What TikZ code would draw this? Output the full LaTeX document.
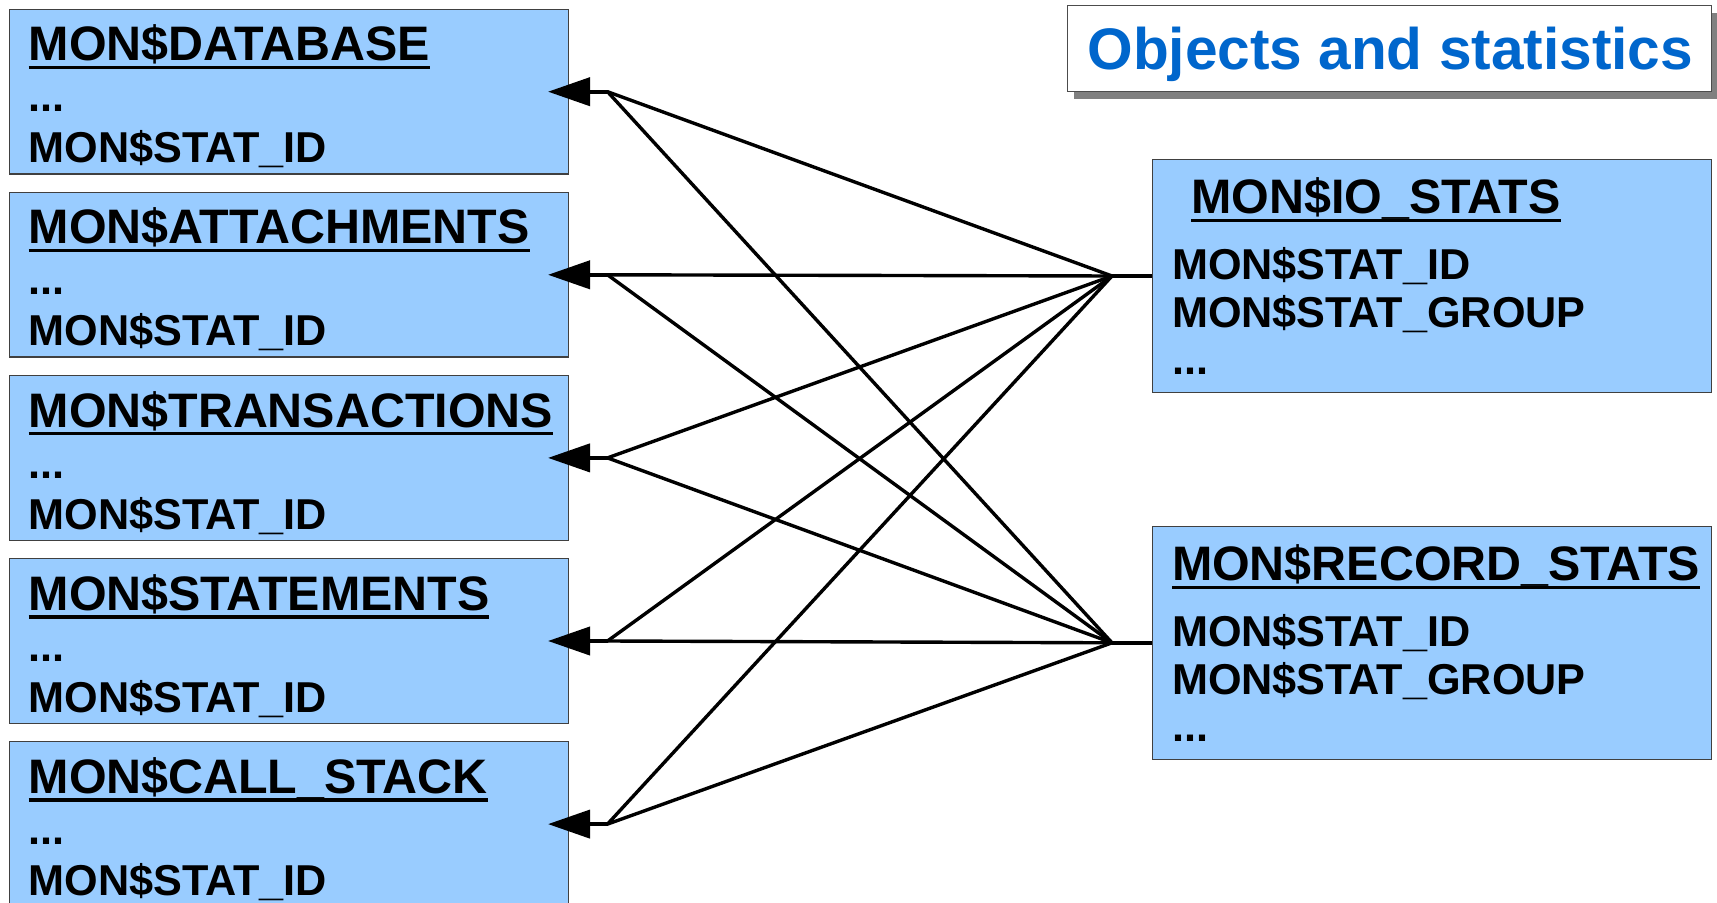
\documentclass[tikz,border=0pt]{standalone}
\usepackage{fontspec}
\setmainfont{Liberation Sans}
\usetikzlibrary{arrows.meta,shadows}
\definecolor{tblfill}{HTML}{99CCFF}
\definecolor{headblue}{HTML}{0066CC}
\newcommand{\uln}[1]{\setbox0\hbox{#1}\rlap{\rule[-4.2pt]{\wd0}{1.7pt}}\box0}
\begin{document}
\begin{tikzpicture}[x=0.5pt,y=-0.5pt,
  tbl/.style={draw=black!75,line width=0.6pt,fill=tblfill,inner sep=0pt,anchor=north west,minimum width=279.5pt},
  objtbl/.style={tbl,minimum height=82.3pt},
  stattbl/.style={tbl,minimum height=116.6pt},
  nm/.style={anchor=base west,inner sep=0pt,font=\fontsize{24.2pt}{26pt}\selectfont\bfseries},
  fld/.style={anchor=base west,inner sep=0pt,font=\fontsize{21.6pt}{24pt}\selectfont\bfseries},
  lnk/.style={line width=1.7pt},
  stub/.style={line width=2pt},
  ref/.style={stub,-{Triangle[length=21pt,width=14pt]}}]
\useasboundingbox (0,0) rectangle (1717,903);
% title
\node[draw=black!70,line width=0.6pt,fill=white,drop shadow={shadow xshift=3pt,shadow yshift=-3.5pt,fill=black!50,opacity=1},
  minimum width=322pt,minimum height=43pt,anchor=north west,inner sep=0pt] (ttl) at (1067,5) {};
\node[anchor=base west,inner sep=0pt,text=headblue,font=\fontsize{29.3pt}{32pt}\selectfont\bfseries] (ttltxt) at (1087,70) {Objects and statistics};
% object tables
\node[objtbl] (db) at (8.8,8.8) {};
\node[nm] (dbh) at (28.3,60.8) {\uln{MON\$DATABASE}};
\node[fld] (dbd) at (28.3,111.8) {...};
\node[fld] (dbs) at (28.3,162.8) {MON\$STAT\_ID};
\node[objtbl] (att) at (8.8,191.9) {};
\node[nm] (atth) at (28.3,243.9) {\uln{MON\$ATTACHMENTS}};
\node[fld] (attd) at (28.3,294.9) {...};
\node[fld] (atts) at (28.3,345.9) {MON\$STAT\_ID};
\node[objtbl] (tra) at (8.8,375.0) {};
\node[nm] (trah) at (28.3,427) {\uln{MON\$TRANSACTIONS}};
\node[fld] (trad) at (28.3,478) {...};
\node[fld] (tras) at (28.3,529) {MON\$STAT\_ID};
\node[objtbl] (stm) at (8.8,558.1) {};
\node[nm] (stmh) at (28.3,610.1) {\uln{MON\$STATEMENTS}};
\node[fld] (stmd) at (28.3,661.1) {...};
\node[fld] (stms) at (28.3,712.1) {MON\$STAT\_ID};
\node[objtbl] (cst) at (8.8,741.2) {};
\node[nm] (csth) at (28.3,793.2) {\uln{MON\$CALL\_STACK}};
\node[fld] (cstd) at (28.3,844.2) {...};
\node[fld] (csts) at (28.3,895.2) {MON\$STAT\_ID};
% statistics tables
\node[stattbl] (io) at (1151.5,158.8) {};
\node[nm] (ioh) at (1191,213.8) {\uln{MON\$IO\_STATS}};
\node[fld] (ios) at (1171.6,279.8) {MON\$STAT\_ID};
\node[fld] (iog) at (1171.6,327.8) {MON\$STAT\_GROUP};
\node[fld] (iod) at (1171.6,374.8) {...};
\node[stattbl] (rec) at (1151.5,525.6) {};
\node[nm] (rech) at (1171.6,580.6) {\uln{MON\$RECORD\_STATS}};
\node[fld] (recs) at (1171.6,646.6) {MON\$STAT\_ID};
\node[fld] (recg) at (1171.6,694.6) {MON\$STAT\_GROUP};
\node[fld] (recd) at (1171.6,741.6) {...};
% junctions
\coordinate (dbj) at ([xshift=19.25pt]db.east);
\coordinate (attj) at ([xshift=19.25pt]att.east);
\coordinate (traj) at ([xshift=19.25pt]tra.east);
\coordinate (stmj) at ([xshift=19.25pt]stm.east);
\coordinate (cstj) at ([xshift=19.25pt]cst.east);
\coordinate (ioj) at ([xshift=-19.75pt]io.west);
\coordinate (recj) at ([xshift=-19.75pt]rec.west);
% links
\draw[lnk] (dbj) -- (ioj);
\draw[lnk] (dbj) -- (recj);
\draw[lnk] (attj) -- (ioj);
\draw[lnk] (attj) -- (recj);
\draw[lnk] (traj) -- (ioj);
\draw[lnk] (traj) -- (recj);
\draw[lnk] (stmj) -- (ioj);
\draw[lnk] (stmj) -- (recj);
\draw[lnk] (cstj) -- (ioj);
\draw[lnk] (cstj) -- (recj);
\draw[stub] (ioj) -- (io.west);
\draw[stub] (recj) -- (rec.west);
\draw[ref] (dbj) -- ([xshift=-10.5pt]db.east);
\draw[ref] (attj) -- ([xshift=-10.5pt]att.east);
\draw[ref] (traj) -- ([xshift=-10.5pt]tra.east);
\draw[ref] (stmj) -- ([xshift=-10.5pt]stm.east);
\draw[ref] (cstj) -- ([xshift=-10.5pt]cst.east);
\end{tikzpicture}
\end{document}
